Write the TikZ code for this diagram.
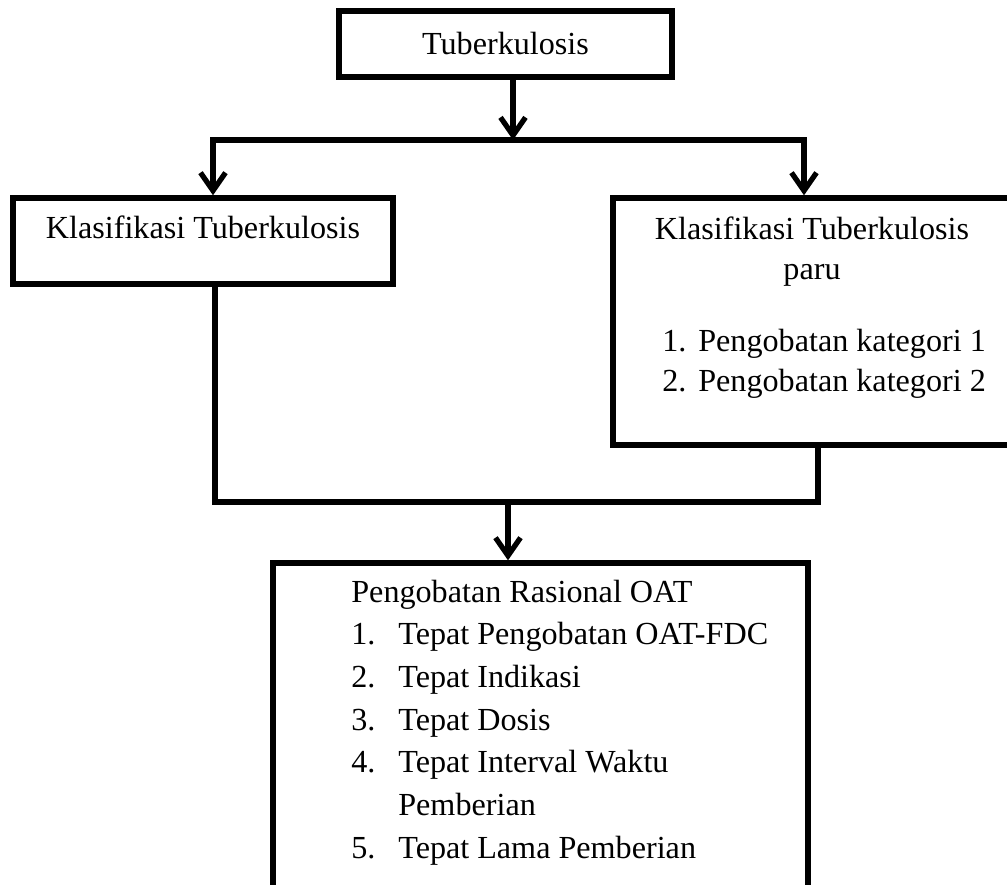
\documentclass[tikz,border=0pt]{standalone}
\usepackage{fontspec}
\setmainfont{Liberation Serif}
\usetikzlibrary{arrows.meta}

\begin{document}
\begin{tikzpicture}
    [x=0.02cm,y=-0.02cm,font=\fontsize{18.3}{24.3}\selectfont,
    box/.style={rectangle,draw=black,line width=3.1pt,inner sep=0pt},
    conn/.style={draw=black,line width=3pt,line cap=rect},
    arr/.style={draw=black,line width=3pt,
      -{Straight Barb[length=0.36cm,width=0.5cm]}},
    txt/.style={inner sep=0pt}]

    \useasboundingbox (0,0) rectangle (1007,885);
    \clip (0,0) rectangle (1007,885);

    \node[box,minimum width=6.66cm,minimum height=1.32cm] (tuberkulosis) at (505.5,44) {Tuberkulosis};

    \node[box,minimum width=7.6cm,minimum height=1.72cm] (klasifikasi) at (203,241) {};

    \node[box,minimum width=8.34cm,minimum height=4.94cm] (klasifikasi paru) at (821.5,321.5) {};

    \node[box,minimum width=10.7cm,minimum height=7.14cm] (rasional) at (540.5,741.5) {};

    \node[txt,anchor=base] (klasifikasi text) at (203,238) {Klasifikasi Tuberkulosis};

    \node[txt,anchor=base] (paru text) at (812,239)
      {\fontsize{18.3}{23.3}\selectfont\begin{tabular}[t]{@{}c@{}}Klasifikasi Tuberkulosis\\paru\end{tabular}};

    \node[txt,anchor=base west] (paru list) at (662,351)
      {\fontsize{18.3}{23.3}\selectfont\begin{tabular}[t]{@{}p{0.72cm}@{}l@{}}
        1. & Pengobatan kategori 1\\
        2. & Pengobatan kategori 2
      \end{tabular}};

    \node[txt,anchor=base west] (rasional list) at (351,602)
      {\begin{tabular}[t]{@{}p{0.94cm}@{}l@{}}
        \multicolumn{2}{@{}l@{}}{Pengobatan Rasional OAT}\\
        1. & Tepat Pengobatan OAT-FDC\\
        2. & Tepat Indikasi\\
        3. & Tepat Dosis\\
        4. & Tepat Interval Waktu\\
           & Pemberian\\
        5. & Tepat Lama Pemberian
      \end{tabular}};

    \coordinate (split)       at (513,140);
    \coordinate (split left)  at (213,140);
    \coordinate (split right) at (804,140);
    \coordinate (merge)       at (508,502);
    \coordinate (merge left)  at (215,502);
    \coordinate (merge right) at (818,502);

    \draw[arr]  (tuberkulosis.south -| split) -- (split);
    \draw[conn] (split left) -- (split right);
    \draw[arr]  (split left) -- (split left |- klasifikasi.north);
    \draw[arr]  (split right) -- (split right |- klasifikasi paru.north);
    \draw[conn] (merge left |- klasifikasi.south) -- (merge left)
      -- (merge right) -- (merge right |- klasifikasi paru.south);
    \draw[arr]  (merge) -- (merge |- rasional.north);

  \end{tikzpicture}
\end{document}
